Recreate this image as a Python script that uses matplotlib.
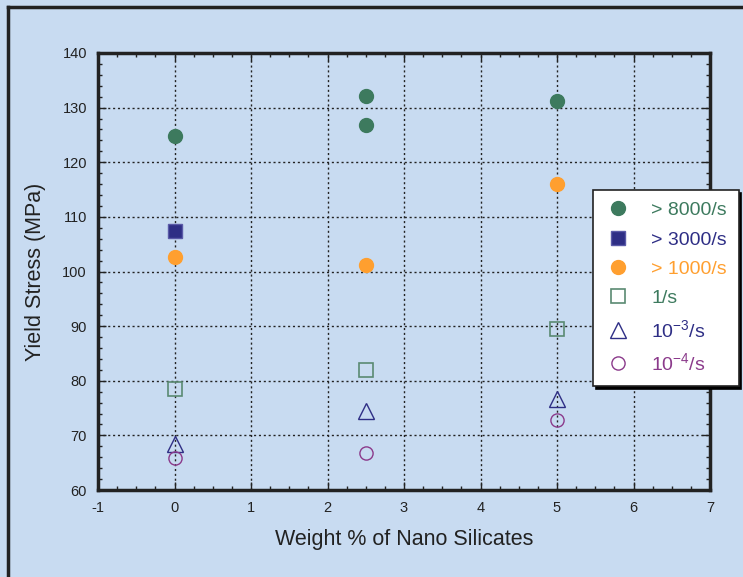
import matplotlib
matplotlib.use('Agg')
import matplotlib.pyplot as plt
from matplotlib.ticker import MultipleLocator
from matplotlib.lines import Line2D

BG = '#c8dbf1'
GREEN = '#3d7a5e'
NAVY = '#2e2e85'
ORANGE = '#ff9f2f'
PURPLE = '#8b3a8b'

# data
x_8000 = [0, 2.5, 2.5, 5]
y_8000 = [124.8, 132.1, 126.8, 131.2]
x_3000 = [0]
y_3000 = [107.5]
x_1000 = [0, 2.5, 5]
y_1000 = [102.6, 101.2, 116.0]
x_1 = [0, 2.5, 5]
y_1 = [78.5, 82.0, 89.5]
x_1e3 = [0, 2.5, 5]
y_1e3 = [68.5, 74.4, 76.6]
x_1e4 = [0, 2.5, 5]
y_1e4 = [65.8, 66.8, 72.9]

labels = ['> 8000/s', '> 3000/s', '> 1000/s', '1/s',
          r'10$^{\mathregular{-3}}$/s', r'10$^{\mathregular{-4}}$/s']

plt.rcParams['font.family'] = ['Liberation Sans', 'DejaVu Sans']
plt.rcParams['mathtext.default'] = 'regular'
plt.rcParams['axes.unicode_minus'] = False

fig = plt.figure(figsize=(7.43, 5.77), dpi=100)
fig.patch.set_facecolor(BG)
ax = fig.add_axes([98 / 743, 1 - 490 / 577, (710 - 98) / 743, (490 - 53) / 577])
ax.set_facecolor(BG)

# outer frame (top and left edges visible)
fig.add_artist(Line2D([8 / 743, 1], [1 - 7 / 577, 1 - 7 / 577], color='#222222', lw=2.5,
                      transform=fig.transFigure))
fig.add_artist(Line2D([8 / 743, 8 / 743], [0, 1 - 7 / 577], color='#222222', lw=2.5,
                      transform=fig.transFigure))

ax.plot(x_8000, y_8000, 'o', ms=10, color=GREEN, mec=GREEN, label=labels[0], zorder=3)
ax.plot(x_3000, y_3000, 's', ms=10, color=NAVY, mec='#5a5aa8', mew=1, label=labels[1], zorder=3)
ax.plot(x_1000, y_1000, 'o', ms=10, color=ORANGE, mec=ORANGE, label=labels[2], zorder=3)
ax.plot(x_1, y_1, 's', ms=10.5, mfc='none', mec='#5a8a72', mew=1.2, label=labels[3], zorder=3)
ax.plot(x_1e3, y_1e3, '^', ms=11, mfc='none', mec=NAVY, mew=1, label=labels[4], zorder=3)
ax.plot(x_1e4, y_1e4, 'o', ms=9.5, mfc='none', mec=PURPLE, mew=1, label=labels[5], zorder=3)

ax.set_xlim(-1, 7)
ax.set_ylim(60, 140)
ax.xaxis.set_major_locator(MultipleLocator(1))
ax.xaxis.set_minor_locator(MultipleLocator(0.25))
ax.yaxis.set_major_locator(MultipleLocator(10))
ax.yaxis.set_minor_locator(MultipleLocator(2))
ax.tick_params(which='both', direction='in', top=True, right=True, colors='#222222',
               labelsize=10.5, pad=8)
ax.tick_params(which='major', length=6, width=1)
ax.tick_params(which='minor', length=3, width=1)
ax.grid(True, which='major', color='#222222', linestyle=(0, (1.5, 2)), lw=1)
for s in ax.spines.values():
    s.set_linewidth(2.5)
    s.set_color('#222222')

ax.set_xlabel('Weight % of Nano Silicates', fontsize=15.5, color='#222222', labelpad=10)
ax.set_ylabel('Yield Stress (MPa)', fontsize=15.5, color='#222222', labelpad=12)

leg = fig.legend(loc='upper left', bbox_to_anchor=(593 / 743, 1 - 190 / 577),
                 borderaxespad=0, fontsize=14, frameon=True, fancybox=False,
                 shadow={'color': 'black', 'alpha': 1},
                 edgecolor='#222222', framealpha=1, labelspacing=0.6,
                 handletextpad=1.0, borderpad=0.6, handlelength=1.4)
leg.get_frame().set_linewidth(1.2)
for t, c in zip(leg.get_texts(), [GREEN, NAVY, ORANGE, GREEN, NAVY, PURPLE]):
    t.set_color(c)

fig.savefig('out.png', dpi=100, facecolor=BG)
